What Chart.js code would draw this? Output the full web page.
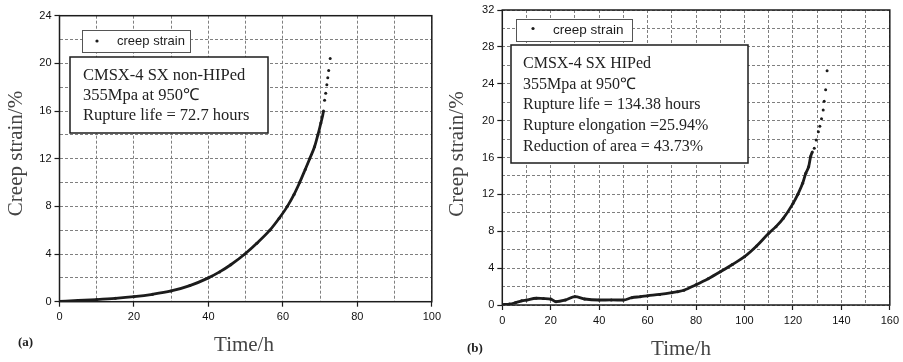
<!DOCTYPE html>
<html><head><meta charset="utf-8">
<script src="https://cdn.jsdelivr.net/npm/chart.js@4.4.1/dist/chart.umd.min.js"></script>
<style>
html,body{margin:0;padding:0;background:#fff;width:903px;height:362px;overflow:hidden}
.wrap{position:absolute;top:0;height:362px}
#wa{left:0;width:445px}
#wb{left:445px;width:458px}
canvas{display:block}
</style></head><body>
<div class="wrap" id="wa"><canvas id="ca" width="445" height="362"></canvas></div>
<div class="wrap" id="wb"><canvas id="cb" width="458" height="362"></canvas></div>
<script>
// ---------- data ----------
const seriesName = 'creep strain';

// (a) CMSX-4 SX non-HIPed
const timeA   = [0, 5, 10, 15, 20, 25, 30, 35, 40, 43, 46, 49.8, 53, 56.5, 59, 61.2, 63, 64.5, 66, 67.2, 68.5, 69.4, 70.2, 70.9, 71.2, 71.5, 71.8, 72.05, 72.3, 72.7];
const strainA = [0.03, 0.1, 0.18, 0.28, 0.42, 0.62, 0.9, 1.35, 2.0, 2.5, 3.1, 4.0, 4.9, 6.0, 7.0, 8.0, 9.0, 10.0, 11.1, 12.0, 13.0, 14.0, 15.0, 16.0, 16.9, 17.5, 18.2, 18.8, 19.4, 20.4];

// (b) CMSX-4 SX HIPed
const timeB   = [0, 3, 5.4, 8, 10, 14, 17, 20, 22.2, 26, 30, 34, 40, 45, 50, 53.5, 57, 60, 65, 70, 72.4, 75, 80, 85, 90, 95, 100, 105, 110, 113, 116, 120, 122, 124, 125.3, 126.5, 127.3, 128, 128.8, 129.6, 130.5, 131.1, 131.8, 132.5, 132.9, 133.5, 134.1];
const strainB = [0.05, 0.1, 0.25, 0.45, 0.54, 0.73, 0.7, 0.65, 0.36, 0.54, 0.9, 0.65, 0.54, 0.55, 0.54, 0.8, 0.9, 1.0, 1.15, 1.34, 1.45, 1.6, 2.2, 2.85, 3.6, 4.4, 5.24, 6.4, 7.78, 8.5, 9.4, 11.0, 12.0, 13.2, 14.3, 15.0, 16.1, 16.6, 17.0, 17.9, 18.8, 19.4, 20.2, 21.15, 22.1, 23.35, 25.4];

// tick labels
const xTickLabelsA = [0, 20, 40, 60, 80, 100];
const yTickLabelsA = [0, 4, 8, 12, 16, 20, 24];
const xTickLabelsB = [0, 20, 40, 60, 80, 100, 120, 140, 160];
const yTickLabelsB = [0, 4, 8, 12, 16, 20, 24, 28, 32];

// texts
const xTitle = 'Time/h';
const yTitle = 'Creep strain/%';
const panelLabels = ['(a)', '(b)'];
const infoA = ['CMSX-4 SX non-HIPed', '355Mpa at 950\u2103', 'Rupture life = 72.7 hours'];
const infoB = ['CMSX-4 SX HIPed', '355Mpa at 950\u2103', 'Rupture life = 134.38 hours', 'Rupture elongation =25.94%', 'Reduction of area = 43.73%'];

// ---------- drawing ----------
const INK = '#1c1c1c';
const SERIF = '"Liberation Serif","Times New Roman",serif';
const SANS = '"Liberation Sans",Arial,sans-serif';

const decor = {
  id: 'decor',
  afterDraw(chart, args, o) {
    const c = chart.ctx, a = chart.chartArea;
    c.save();
    // frame
    c.strokeStyle = INK; c.lineWidth = 1.5;
    c.strokeRect(a.left, a.top, a.right - a.left, a.bottom - a.top);
    // legend box
    const L = o.legend;
    c.fillStyle = '#fff'; c.fillRect(L.x1, L.y1, L.x2 - L.x1, L.y2 - L.y1);
    c.strokeStyle = '#555'; c.lineWidth = 1;
    c.strokeRect(L.x1 + 0.5, L.y1 + 0.5, L.x2 - L.x1, L.y2 - L.y1);
    c.fillStyle = INK;
    c.beginPath(); c.arc(L.dotX, L.dotY, 1.6, 0, Math.PI * 2); c.fill();
    c.font = L.font; c.textBaseline = 'middle'; c.textAlign = 'left';
    c.fillText(chart.data.datasets[0].label, L.textX, L.textY);
    // info box
    const I = o.info;
    c.fillStyle = '#fff'; c.fillRect(I.x1, I.y1, I.x2 - I.x1, I.y2 - I.y1);
    c.strokeStyle = INK; c.lineWidth = 1.5;
    c.strokeRect(I.x1, I.y1, I.x2 - I.x1, I.y2 - I.y1);
    c.fillStyle = '#222'; c.font = I.font; c.textBaseline = 'middle';
    o.lines.forEach((t, i) => c.fillText(t, I.textX, I.y0 + i * I.dy));
    // axis titles
    c.fillStyle = '#444';
    c.font = o.titleFont;
    c.textAlign = 'center'; c.textBaseline = 'alphabetic';
    c.fillText(xTitle, o.xTitle.x, o.xTitle.y);
    c.save();
    c.translate(o.yTitle.x, o.yTitle.y); c.rotate(-Math.PI / 2);
    c.textBaseline = 'middle';
    c.fillText(yTitle, 0, 0);
    c.restore();
    // panel label
    c.fillStyle = '#222';
    c.font = 'bold 13px ' + SERIF; c.textAlign = 'left'; c.textBaseline = 'alphabetic';
    c.fillText(o.panel.text, o.panel.x, o.panel.y);
    c.restore();
  }
};

function makeChart(id, xs, ys, xMax, yMax, xLabels, yLabels, lineUntil, area, deco) {
  const pts = xs.map((x, i) => ({x: x, y: ys[i]}));
  return new Chart(document.getElementById(id), {
    type: 'scatter',
    data: { datasets: [{
      label: seriesName,
      data: pts,
      showLine: true,
      borderColor: INK,
      borderWidth: 2.8,
      cubicInterpolationMode: 'monotone',
      pointRadius: 1.5,
      pointBackgroundColor: INK,
      pointBorderWidth: 0,
      segment: { borderColor: ctx => ctx.p0.parsed.x >= lineUntil ? 'rgba(0,0,0,0)' : INK }
    }]},
    options: {
      responsive: false, animation: false, devicePixelRatio: 1,
      layout: { padding: { left: 0, top: area.top, right: area.right, bottom: 0 } },
      plugins: { legend: { display: false }, tooltip: { enabled: false }, decor: deco },
      scales: {
        x: {
          type: 'linear', min: 0, max: xMax,
          afterFit: s => { s.height = area.xh; },
          ticks: { stepSize: 10, autoSkip: false, maxRotation: 0, padding: 4, color: '#111',
                   font: { family: SANS, size: 11 },
                   callback: v => xLabels.includes(v) ? String(v) : '' },
          grid: { color: '#7f7f7f', lineWidth: 1, tickLength: 5,
                  tickColor: ctx => xLabels.includes(ctx.tick && ctx.tick.value) ? INK : 'rgba(0,0,0,0)', tickWidth: 1.2 },
          border: { display: false, dash: [3, 2] }
        },
        y: {
          type: 'linear', min: 0, max: yMax,
          afterFit: s => { s.width = area.yw; },
          ticks: { stepSize: 2, autoSkip: false, padding: 3, color: '#111',
                   font: { family: SANS, size: 11 },
                   callback: v => yLabels.includes(v) ? String(v) : '' },
          grid: { color: '#7f7f7f', lineWidth: 1, tickLength: 5,
                  tickColor: ctx => yLabels.includes(ctx.tick && ctx.tick.value) ? INK : 'rgba(0,0,0,0)', tickWidth: 1.2 },
          border: { display: false, dash: [3, 2] }
        }
      }
    },
    plugins: [decor]
  });
}

makeChart('ca', timeA, strainA, 100, 24, xTickLabelsA, yTickLabelsA, 70.9,
  { top: 15.7, right: 10, xh: 60.3, yw: 59.5 },
  {
    legend: { x1: 82, y1: 30, x2: 190, y2: 52, dotX: 97, dotY: 41, textX: 117, textY: 41.5, font: '13px ' + SANS },
    info: { x1: 70, y1: 57, x2: 268, y2: 133, textX: 83, y0: 75.5, dy: 20, font: '16.5px ' + SERIF },
    lines: infoA,
    titleFont: '21px ' + SERIF,
    xTitle: { x: 244, y: 351 },
    yTitle: { x: 16.5, y: 153.5 },
    panel: { text: panelLabels[0], x: 18, y: 346 }
  });

makeChart('cb', timeB, strainB, 160, 32, xTickLabelsB, yTickLabelsB, 128,
  { top: 10, right: 8, xh: 57, yw: 57.3 },
  {
    legend: { x1: 71, y1: 19, x2: 187, y2: 41, dotX: 88, dotY: 28.5, textX: 108, textY: 30, font: '13.5px ' + SANS },
    info: { x1: 66, y1: 45, x2: 303, y2: 163, textX: 78, y0: 63.5, dy: 20.8, font: '16px ' + SERIF },
    lines: infoB,
    titleFont: '21px ' + SERIF,
    xTitle: { x: 236, y: 355 },
    yTitle: { x: 12, y: 154 },
    panel: { text: panelLabels[1], x: 22, y: 352 }
  });
</script>
</body></html>
